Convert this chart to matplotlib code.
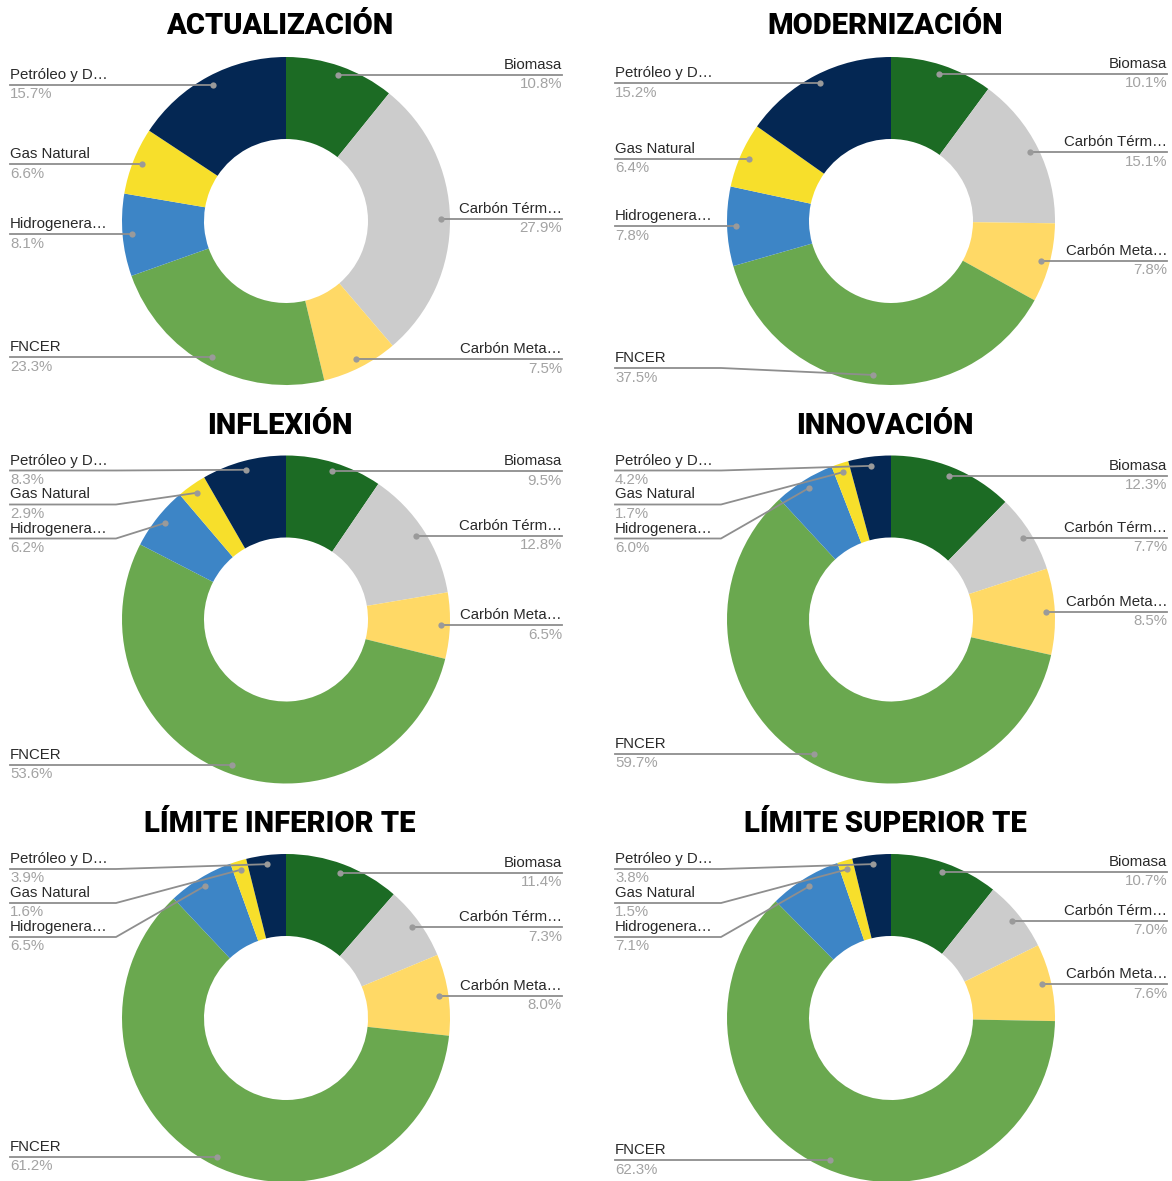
import numpy as np
import matplotlib.pyplot as plt

# figure size in pixels (image coords, y downwards)
W, H = 1172, 1181

labels = ['Biomasa', 'Carbón Térm…', 'Carbón Meta…', 'FNCER',
          'Hidrogenera…', 'Gas Natural', 'Petróleo y D…']
colors = ['#1c6b24', '#cccccc', '#ffd966', '#6aa84f',
          '#3d85c6', '#f7df2b', '#042753']

titles = ['ACTUALIZACIÓN', 'MODERNIZACIÓN', 'INFLEXIÓN', 'INNOVACIÓN',
          'LÍMITE INFERIOR TE', 'LÍMITE SUPERIOR TE']

actualizacion = [10.8, 27.9, 7.5, 23.3, 8.1, 6.6, 15.7]
modernizacion = [10.1, 15.1, 7.8, 37.5, 7.8, 6.4, 15.2]
inflexion = [9.5, 12.8, 6.5, 53.6, 6.2, 2.9, 8.3]
innovacion = [12.3, 7.7, 8.5, 59.7, 6.0, 1.7, 4.2]
lim_inferior = [11.4, 7.3, 8.0, 61.2, 6.5, 1.6, 3.9]
lim_superior = [10.7, 7.0, 7.6, 62.3, 7.1, 1.5, 3.8]

scenarios = [actualizacion, modernizacion, inflexion,
             innovacion, lim_inferior, lim_superior]

# layout (pixels)
col_cx = [286, 891]
row_cy = [221, 619.5, 1018]
row_base = [34.5, 433.5, 832.5]   # title baselines
R = 164
LABEL_OFF = 276
SPACING = 34
LINE_C = '#8e8e8e'


def Y(y):
    return H - y


def label_slots(items, top, bottom):
    # items: list of (idx, dot_y); push labels apart vertically
    items = sorted(items, key=lambda t: t[1])
    ys = []
    for i, (_, dy) in enumerate(items):
        y = max(dy, top)
        if ys:
            y = max(y, ys[-1] + SPACING)
        ys.append(y)
    if ys and ys[-1] > bottom:
        ys[-1] = bottom
        for i in range(len(ys) - 2, -1, -1):
            ys[i] = min(ys[i], ys[i + 1] - SPACING)
    return [(items[i][0], ys[i]) for i in range(len(items))]


def donut(ax, vals, title, cx, cy, tb):
    ax.pie(vals, colors=colors, startangle=90, counterclock=False,
           radius=R, center=(cx, Y(cy)),
           wedgeprops=dict(width=R * 0.5, linewidth=0))
    ax.text(cx - 6, Y(tb), title, ha='center', va='baseline',
            fontsize=21, fontweight='heavy', family='Roboto', color='black')

    total = float(sum(vals))
    cum = np.cumsum([0] + list(vals)) / total
    right, left = [], []
    dots = {}
    for i in range(len(vals)):
        mid = (cum[i] + cum[i + 1]) / 2 * 2 * np.pi
        dx = 0.945 * R * np.sin(mid)
        dy = -0.945 * R * np.cos(mid)
        dots[i] = (cx + dx, cy + dy)
        if np.degrees(mid) < 180:
            right.append((i, cy + dy))
        else:
            left.append((i, cy + dy))

    top, bottom = cy - R + 15, cy + R - 17
    for side, items in (('r', right), ('l', left)):
        for i, ly in label_slots(items, top, bottom):
            px, py = dots[i]
            if side == 'r':
                edge = cx + LABEL_OFF
                knee = max(edge - 106, px)
                ha = 'right'
            else:
                edge = cx - LABEL_OFF
                knee = min(edge + 106, px)
                ha = 'left'
            ax.plot([edge, knee, px], [Y(ly), Y(ly), Y(py)],
                    color=LINE_C, lw=1.3, zorder=3)
            ax.plot(px, Y(py), 'o', ms=4.5, color='#9a9a9a',
                    mec='none', zorder=4)
            ax.text(edge, Y(ly - 10), labels[i], ha=ha, va='center',
                    fontsize=10.8, family='Liberation Sans', color='#2a2a2a')
            ax.text(edge, Y(ly + 9.5), '%.1f%%' % vals[i], ha=ha,
                    va='center', fontsize=10.8, family='Liberation Sans',
                    color='#a3a3a3')


fig = plt.figure(figsize=(W / 100, H / 100), dpi=100)
ax = fig.add_axes([0, 0, 1, 1])

for k, (vals, title) in enumerate(zip(scenarios, titles)):
    r, c = divmod(k, 2)
    donut(ax, vals, title, col_cx[c], row_cy[r], row_base[r])

ax.set_xlim(0, W)
ax.set_ylim(0, H)
ax.set_aspect('equal')
ax.axis('off')

fig.savefig('out.png', dpi=100, facecolor='white')
